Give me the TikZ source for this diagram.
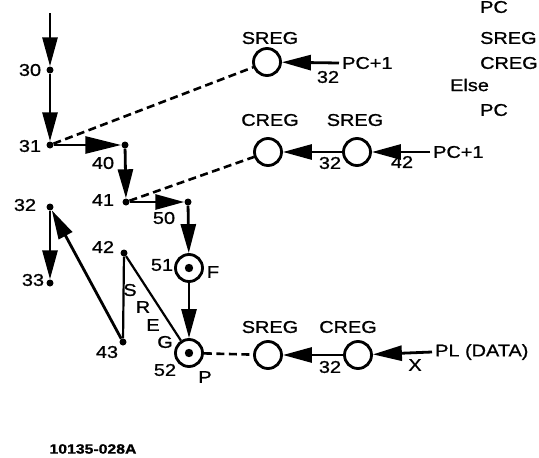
\documentclass[tikz,border=0pt]{standalone}
\usepackage{fontspec}
\setmainfont{Liberation Sans}[FakeStretch=1.17,FakeBold=1]
\usetikzlibrary{arrows.meta}
\begin{document}
\begin{tikzpicture}[x=1pt,y=-1pt,
  font=\fontsize{17}{18}\selectfont,
  dot/.style={circle,fill,inner sep=0pt,minimum size=7pt},
  reg/.style={circle,draw,line width=2.8pt,minimum size=27pt,inner sep=0pt},
  lbl/.style={inner sep=0pt},
  flow/.style={line width=2.8pt,-{Triangle[length=29pt,width=15pt]}},
  bigflow/.style={line width=2.8pt,-{Triangle[length=36pt,width=17pt]}},
  plain/.style={line width=2.2pt},
  dashline/.style={line width=2.6pt,dash pattern=on 8pt off 4.5pt}]
\useasboundingbox (0,0) rectangle (539,458);

% left flow
\coordinate (top) at (50,13);
\node[dot] (n30) at (50,70) {};
\node[dot] (n31) at (50,145) {};
\node[dot] (n40) at (125,145) {};
\node[dot] (n41) at (126,202) {};
\node[dot] (n50) at (188,202) {};
\node[reg] (c51) at (189,268) {};
\node[reg] (c52) at (189,353) {};
\fill (c51) circle (4.2pt);
\fill (c52) circle (4.2pt);
\node[dot] (n32) at (50,207) {};
\node[dot] (n33) at (50,283) {};
\node[dot] (n42) at (124,253) {};
\node[dot] (n43) at (123,342) {};

\draw[flow] (top) -- (n30);
\draw[flow] (n30) -- (n31);
\draw[bigflow] (n31) -- (n40);
\draw[flow] (n40) -- (n41);
\draw[flow] (n41) -- (n50);
\draw[flow] (n50) -- (c51);
\draw[flow] (c51) -- (c52);
\draw[flow] (n32) -- (n33);
\draw[flow] (n43) -- (n32);
\draw[plain] (n43) -- (n42);
\draw[plain] (n42) -- (c52);

% node labels
\node[lbl] (l30) at (30,70) {30};
\node[lbl] (l31) at (30,146) {31};
\node[lbl] (l40) at (103,163) {40};
\node[lbl] (l41) at (103,200) {41};
\node[lbl] (l50) at (164,218) {50};
\node[lbl] (l32) at (25,205) {32};
\node[lbl] (l33) at (33,280) {33};
\node[lbl] (l42) at (103,247) {42};
\node[lbl] (l43) at (107,352) {43};
\node[lbl] (l51) at (162,265) {51};
\node[lbl] (lF) at (213,272) {F};
\node[lbl] (l52) at (165,370) {52};
\node[lbl] (lP) at (205,377) {P};
\node[lbl] (sS) at (130,290) {S};
\node[lbl] (sR) at (143,307) {R};
\node[lbl] (sE) at (153,325) {E};
\node[lbl] (sG) at (165,342) {G};

% row 1
\node[reg] (sreg1) at (267,62) {};
\node[lbl] (t1) at (270,38) {SREG};
\node[lbl,anchor=west,inner sep=3pt] (pc1) at (339,63) {PC+1};
\draw[flow] (pc1.west) -- (sreg1);
\node[lbl] (a1) at (328,77) {32};
\draw[dashline] (n31) -- (sreg1);

% row 2
\node[reg] (creg2) at (268,152) {};
\node[reg] (sreg2) at (357,152) {};
\node[lbl] (t2a) at (270,120) {CREG};
\node[lbl] (t2b) at (355,120) {SREG};
\node[lbl,anchor=west,inner sep=3pt] (pc2) at (430,152) {PC+1};
\draw[flow] (pc2.west) -- (sreg2);
\draw[flow] (sreg2) -- (creg2);
\node[lbl] (a2) at (330,163) {32};
\node[lbl] (a3) at (402,162) {42};
\draw[dashline] (n41) -- (creg2);

% row 3
\node[reg] (sreg3) at (268,355) {};
\node[reg] (creg3) at (358,355) {};
\node[lbl] (t3a) at (270,327) {SREG};
\node[lbl] (t3b) at (348,327) {CREG};
\node[lbl,anchor=west,inner sep=3pt] (pl) at (432,352) {PL (DATA)};
\draw[flow] (pl.west) -- (creg3);
\draw[flow] (creg3) -- (sreg3);
\node[lbl] (a4) at (330,367) {32};
\node[lbl] (a5) at (415,365) {X};
\draw[dashline] (c52) -- (sreg3);

% right text block
\node[lbl,anchor=west] (r1) at (480,7) {PC};
\node[lbl,anchor=west] (r2) at (480,38) {SREG};
\node[lbl,anchor=west] (r3) at (480,63) {CREG};
\node[lbl,anchor=west] (r4) at (450,85) {Else};
\node[lbl,anchor=west] (r5) at (480,110) {PC};

% footer
\node[lbl,font=\fontsize{13.5}{15}\selectfont\bfseries] (foot) at (93,449) {10135-028A};
\end{tikzpicture}
\end{document}
